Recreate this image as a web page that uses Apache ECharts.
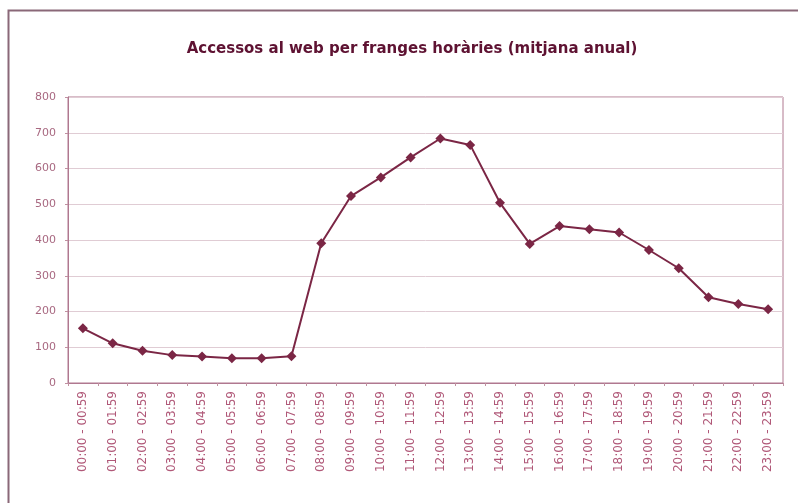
<!DOCTYPE html>
<html>
<head>
<meta charset="utf-8">
<script src="https://cdn.jsdelivr.net/npm/echarts@6/dist/echarts.min.js"></script>
<style>html,body{margin:0;padding:0;background:#fff}#c{width:798px;height:503px}</style>
</head>
<body>
<div id="c"></div>
<script>
const title = 'Accessos al web per franges horàries (mitjana anual)';
const categories = ['00:00 - 00:59','01:00 - 01:59','02:00 - 02:59','03:00 - 03:59','04:00 - 04:59','05:00 - 05:59','06:00 - 06:59','07:00 - 07:59','08:00 - 08:59','09:00 - 09:59','10:00 - 10:59','11:00 - 11:59','12:00 - 12:59','13:00 - 13:59','14:00 - 14:59','15:00 - 15:59','16:00 - 16:59','17:00 - 17:59','18:00 - 18:59','19:00 - 19:59','20:00 - 20:59','21:00 - 21:59','22:00 - 22:59','23:00 - 23:59'];
const values = [153,111,90,78,74,69,69,75,391,523,575,631,684,666,504,389,439,430,421,372,321,240,221,206];

const chart = echarts.init(document.getElementById('c'), null, {renderer:'canvas'});
chart.setOption({
  backgroundColor:'#ffffff',
  animation:false,
  title:{text:title,left:407,textAlign:'center',top:37,textStyle:{fontFamily:'DejaVu Sans',fontWeight:'bold',fontSize:15,color:'#5e1232'}},
  graphic:[{type:'rect',shape:{x:8.5,y:10.5,width:820,height:520},style:{fill:'none',stroke:'#8a6878',lineWidth:2},silent:true}],
  grid:{left:68,right:15,top:97,bottom:120,show:true,borderColor:'#b07890',borderWidth:1,backgroundColor:'#fff'},
  xAxis:{type:'category',data:categories,boundaryGap:true,
    axisLine:{lineStyle:{color:'#b07890'}},
    axisTick:{show:true,length:3,lineStyle:{color:'#c090a0'}},
    axisLabel:{rotate:90,interval:0,fontFamily:'DejaVu Sans',fontSize:12,color:'#b05878',margin:8}},
  yAxis:{type:'value',min:0,max:800,interval:100,
    axisLine:{show:true,lineStyle:{color:'#b07890'}},
    axisTick:{show:true,length:3,lineStyle:{color:'#c090a0'}},
    splitLine:{lineStyle:{color:'#e0ccd4',width:1}},
    axisLabel:{fontFamily:'DejaVu Sans',fontSize:11,color:'#a86880',margin:12}},
  series:[{type:'line',data:values,symbol:'diamond',symbolSize:10,
    lineStyle:{color:'#7b2645',width:2},itemStyle:{color:'#7b2645'}}]
});
</script>
</body>
</html>
